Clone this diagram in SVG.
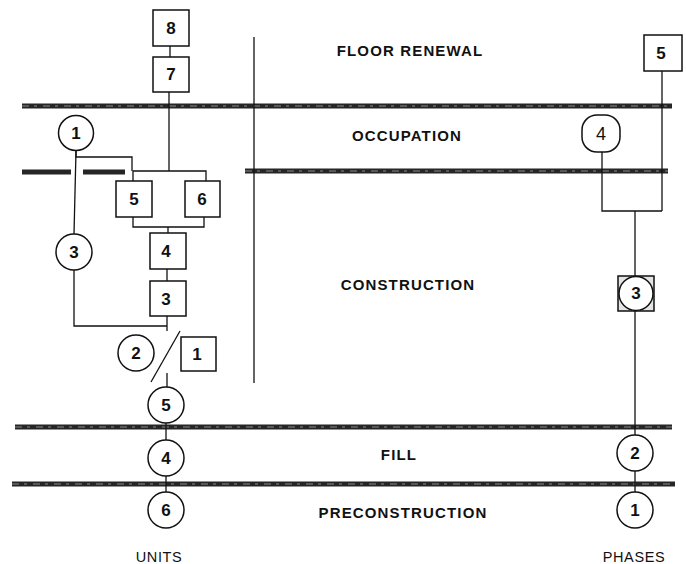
<svg xmlns="http://www.w3.org/2000/svg" width="686" height="564" viewBox="0 0 686 564">
<style>
.band{stroke:#262626;stroke-width:5;fill:none}
.bandtex{stroke:#8a8a8a;stroke-width:1;stroke-dasharray:7 5 3 6;fill:none}
.ln{stroke:#111;stroke-width:1.3;fill:none}
.nd{fill:#fff;stroke:#111;stroke-width:1.5}
.num{font-family:"Liberation Sans",Arial,sans-serif;font-weight:bold;font-size:17px;fill:#111;text-anchor:middle}
.lab{font-family:"Liberation Sans",Arial,sans-serif;font-weight:bold;font-size:15px;letter-spacing:1.15px;fill:#111;text-anchor:middle}
.foot{font-family:"Liberation Sans",Arial,sans-serif;font-size:14.5px;letter-spacing:0.6px;fill:#111;text-anchor:middle}
</style>
<rect width="686" height="564" fill="#fff"/>
<g id="bands">
<line class="band" x1="22" y1="106" x2="672" y2="106"/>
<line class="bandtex" x1="22" y1="106" x2="672" y2="106"/>
<line class="band" x1="22" y1="172" x2="71" y2="172"/>
<line class="band" x1="83" y1="172" x2="125" y2="172"/>
<line class="band" x1="245" y1="171" x2="668" y2="171"/>
<line class="bandtex" x1="245" y1="171" x2="668" y2="171"/>
<line class="band" x1="15" y1="427" x2="672" y2="427"/>
<line class="bandtex" x1="15" y1="427" x2="672" y2="427"/>
<line class="band" x1="12" y1="484" x2="675" y2="484"/>
<line class="bandtex" x1="12" y1="484" x2="675" y2="484"/>
<line class="ln" x1="254" y1="37" x2="254" y2="383"/>
</g>
<g id="labels">
<text class="lab" x="410" y="56">FLOOR RENEWAL</text>
<text class="lab" x="407" y="141">OCCUPATION</text>
<text class="lab" x="408" y="290">CONSTRUCTION</text>
<text class="lab" x="399" y="460">FILL</text>
<text class="lab" x="403" y="518">PRECONSTRUCTION</text>
<text class="foot" x="159" y="562">UNITS</text>
<text class="foot" x="634" y="562">PHASES</text>
</g>
<g id="connectors">
<line class="ln" x1="170" y1="46" x2="170" y2="57"/>
<line class="ln" x1="169" y1="92" x2="169" y2="171"/>
<polyline class="ln" points="133,181 133,171 206,171 206,181"/>
<polyline class="ln" points="76,151 76,157 132,157 132,171"/>
<line class="ln" x1="76" y1="151" x2="74" y2="234"/>
<polyline class="ln" points="133,217 133,227 204,227 204,217"/>
<line class="ln" x1="168" y1="227" x2="168" y2="233"/>
<line class="ln" x1="167" y1="269" x2="167" y2="281"/>
<polyline class="ln" points="74,270 74,326 167,326"/>
<line class="ln" x1="167" y1="316" x2="167" y2="331"/>
<line class="ln" x1="180" y1="331" x2="151" y2="382"/>
<line class="ln" x1="167" y1="373" x2="167" y2="387"/>
<line class="ln" x1="166" y1="423" x2="166" y2="440"/>
<line class="ln" x1="166" y1="476" x2="166" y2="492"/>
<line class="ln" x1="662" y1="71" x2="662" y2="211"/>
<polyline class="ln" points="602,152 602,211 662,211"/>
<line class="ln" x1="635" y1="211" x2="635" y2="276"/>
<line class="ln" x1="635" y1="311" x2="635" y2="435"/>
<line class="ln" x1="635" y1="471" x2="635" y2="492"/>
</g>
<g id="u8"><rect class="nd" x="153" y="10" width="36" height="36"/><text class="num" x="171" y="34">8</text></g>
<g id="u7"><rect class="nd" x="153" y="57" width="36" height="35"/><text class="num" x="171" y="80">7</text></g>
<g id="u1c"><circle class="nd" cx="76" cy="133" r="17.5"/><text class="num" x="76" y="139">1</text></g>
<g id="u5b"><rect class="nd" x="116" y="181" width="36" height="36"/><text class="num" x="134" y="205">5</text></g>
<g id="u6b"><rect class="nd" x="185" y="181" width="35" height="36"/><text class="num" x="202" y="205">6</text></g>
<g id="u3c"><circle class="nd" cx="74" cy="252" r="18"/><text class="num" x="74" y="258">3</text></g>
<g id="u4b"><rect class="nd" x="150" y="233" width="36" height="36"/><text class="num" x="166" y="257">4</text></g>
<g id="u3b"><rect class="nd" x="150" y="281" width="36" height="35"/><text class="num" x="166" y="305">3</text></g>
<g id="u2c"><circle class="nd" cx="136" cy="353" r="18"/><text class="num" x="136" y="359">2</text></g>
<g id="u1b"><rect class="nd" x="181" y="337" width="35" height="34"/><text class="num" x="197" y="360">1</text></g>
<g id="u5c"><circle class="nd" cx="166" cy="405" r="18"/><text class="num" x="166" y="411">5</text></g>
<g id="u4c"><circle class="nd" cx="166" cy="458" r="18"/><text class="num" x="166" y="464">4</text></g>
<g id="u6c"><circle class="nd" cx="166" cy="510" r="18"/><text class="num" x="166" y="516">6</text></g>
<g id="p5"><rect class="nd" x="644" y="35" width="38" height="36"/><text class="num" x="661" y="59">5</text></g>
<g id="p4"><rect class="nd" x="582" y="115" width="38" height="37" rx="15"/><text class="num" x="601" y="140" style="font-weight:normal;font-size:18px">4</text></g>
<g id="p3"><rect class="nd" x="618" y="276" width="36" height="35" style="fill:#e4e4e4"/><circle class="nd" cx="636" cy="293.5" r="17"/><text class="num" x="636" y="299">3</text></g>
<g id="p2"><circle class="nd" cx="635" cy="453" r="18"/><text class="num" x="635" y="459">2</text></g>
<g id="p1"><circle class="nd" cx="635" cy="510" r="18"/><text class="num" x="635" y="516">1</text></g>
</svg>
